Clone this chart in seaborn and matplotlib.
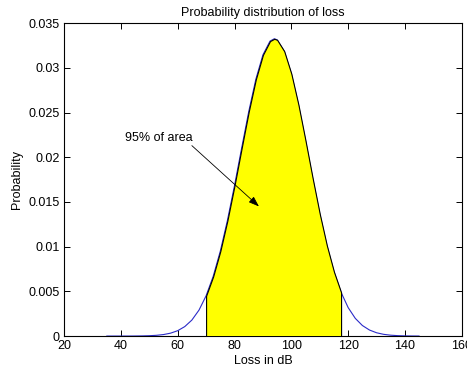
import numpy as np
import matplotlib
matplotlib.use("Agg")
import matplotlib.pyplot as plt
import seaborn as sns
from matplotlib.ticker import FuncFormatter

# loss values (dB) and probability density
loss_db = [35, 37.5, 40, 42.5, 45, 47.5, 50, 52.5, 55, 57.5,
           60, 62.5, 65, 67.5, 70, 72.5, 75, 77.5, 80, 82.5,
           85, 87.5, 90, 92.5, 94, 95, 97.5, 100, 102.5, 105, 107.5,
           110, 112.5, 115, 117.5, 120, 122.5, 125, 127.5, 130, 132.5,
           135, 137.5, 140, 142.5, 145]
prob = [0.0000002, 0.0000005, 0.0000013, 0.0000033, 0.0000079, 0.000018, 0.00004, 0.000084, 0.000169, 0.000325,
        0.0006, 0.00106, 0.00179, 0.0029, 0.0045, 0.00668, 0.00949, 0.01292, 0.01683, 0.021,
        0.02509, 0.02871, 0.03145, 0.03299, 0.03325, 0.03313, 0.03186, 0.02934, 0.02587, 0.02184, 0.01766,
        0.01367, 0.01013, 0.00719, 0.00489, 0.00318, 0.00198, 0.00118, 0.000675, 0.000369, 0.000193,
        0.000097, 0.000046, 0.000021, 0.000009, 0.000004]

area_lo, area_hi = 70, 117.5
x_ticks = [20, 40, 60, 80, 100, 120, 140, 160]
y_ticks = [0, 0.005, 0.01, 0.015, 0.02, 0.025, 0.03, 0.035]

sns.set_theme(style="ticks")
plt.rcParams['font.family'] = ['Liberation Sans', 'DejaVu Sans']
plt.rcParams['font.size'] = 9
plt.rcParams['text.color'] = 'black'
plt.rcParams['axes.labelcolor'] = 'black'

fig, ax = plt.subplots(figsize=(4.67, 3.73), dpi=100)
fig.subplots_adjust(left=0.137, right=0.989, bottom=0.099, top=0.938)

sns.lineplot(x=loss_db, y=prob, ax=ax, color="#2a2ac8", linewidth=0.8)

x = np.array(loss_db)
y = np.array(prob)
m = (x >= area_lo) & (x <= area_hi)
ax.fill_between(x[m], 0, y[m], facecolor="#ffff00", edgecolor="black",
                linewidth=0.8, zorder=3)

ax.text(41.5, 0.0222, "95% of area", ha="left", va="center", fontsize=9)
ax.annotate("", xy=(88.6, 0.0145), xytext=(65.0, 0.0213),
            arrowprops=dict(arrowstyle="-|>,head_length=0.7,head_width=0.25",
                            color="black", lw=0.6, shrinkA=0, shrinkB=0),
            zorder=4)

ax.set_xlim(20, 160)
ax.set_ylim(0, 0.035)
ax.set_xticks(x_ticks)
ax.set_yticks(y_ticks)
ax.yaxis.set_major_formatter(FuncFormatter(lambda v, p: "%g" % v))
ax.tick_params(direction="in", top=True, right=True, length=4, width=0.7,
               labelsize=9, pad=3, colors="black")
for s in ax.spines.values():
    s.set_visible(True)
    s.set_linewidth(0.8)
    s.set_color("black")

ax.set_title("Probability distribution of loss", fontsize=9, pad=5)
ax.set_xlabel("Loss in dB", fontsize=9, labelpad=2)
ax.set_ylabel("Probability", fontsize=9, labelpad=4)

fig.savefig("out.png", dpi=100)
